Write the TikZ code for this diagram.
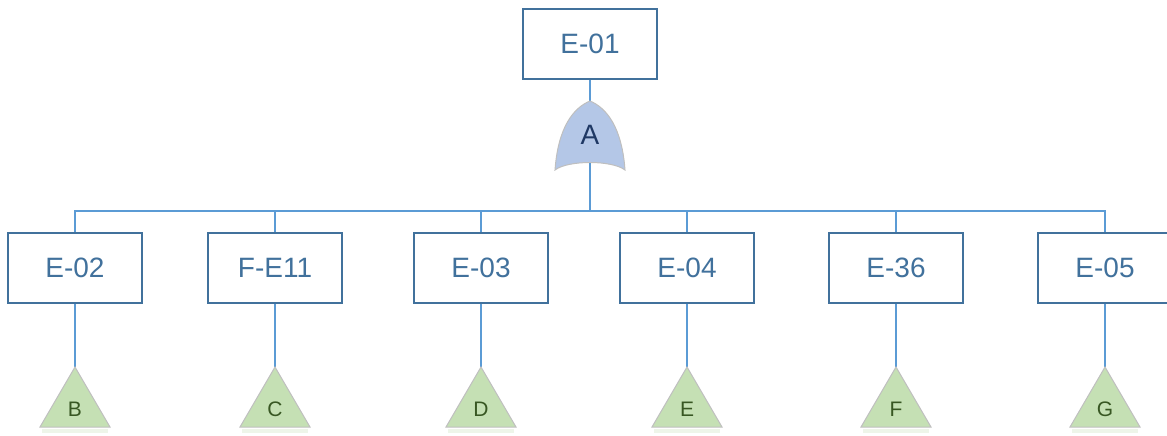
\documentclass[tikz,border=0pt]{standalone}
\usepackage{fontspec}
\setmainfont{Liberation Sans}
\definecolor{boxline}{HTML}{41719C}
\definecolor{boxtext}{HTML}{41719C}
\definecolor{conn}{HTML}{5B9BD5}
\definecolor{gatefill}{HTML}{B4C7E7}
\definecolor{gateline}{HTML}{BFBFBF}
\definecolor{gatetext}{HTML}{1F3864}
\definecolor{trifill}{HTML}{C5E0B4}
\definecolor{tritext}{HTML}{385723}
\begin{document}
\begin{tikzpicture}[x=1pt,y=-1pt,
  evbox/.style={draw=boxline,line width=1.6pt,fill=white,minimum width=134pt,minimum height=70pt,inner sep=0pt,text=boxtext,font=\fontsize{28}{28}\selectfont},
  conline/.style={draw=conn,line width=2.2pt},
  tritxt/.style={text=tritext,font=\fontsize{21}{21}\selectfont,inner sep=0pt}]
\useasboundingbox (0,0) rectangle (1167,436);
% top event
\node[evbox] (e01) at (590,44) {E-01};
% OR gate
\coordinate (gtop) at (590,101);
\coordinate (gbot) at (590,163);
\coordinate (bus) at (590,211);
\draw[conline] (e01.south) -- (gtop);
\filldraw[fill=gatefill,draw=gateline,line width=1pt]
  (555,170) .. controls (558,128) and (573,108) .. (gtop)
  .. controls (607,108) and (622,128) .. (625,170)
  .. controls (612,160) and (568,160) .. (555,170) -- cycle;
\node[text=gatetext,font=\fontsize{28}{28}\selectfont,inner sep=0pt] (gA) at (590,135) {A};
\draw[conline] (gbot) -- (bus);
% children
\foreach \n/\t/\x/\l in {e02/E-02/75/B, fe11/F-E11/275/C, e03/E-03/481/D, e04/E-04/687/E, e36/E-36/896/F, e05/E-05/1105/G}{
  \node[evbox] (\n) at (\x,268) {\t};
  \draw[conline] (\n.north) |- (bus);
  \coordinate (\n apex) at (\x,367);
  \draw[conline] (\n.south) -- (\n apex);
  \fill[trifill!50,opacity=0.6] (\x-33,429) rectangle (\x+33,433);
  \filldraw[fill=trifill,draw=gateline,line width=1pt] (\n apex) -- (\x+35,427) -- (\x-35,427) -- cycle;
  \node[tritxt] (\n t) at (\x,409) {\l};
}
\end{tikzpicture}
\end{document}
